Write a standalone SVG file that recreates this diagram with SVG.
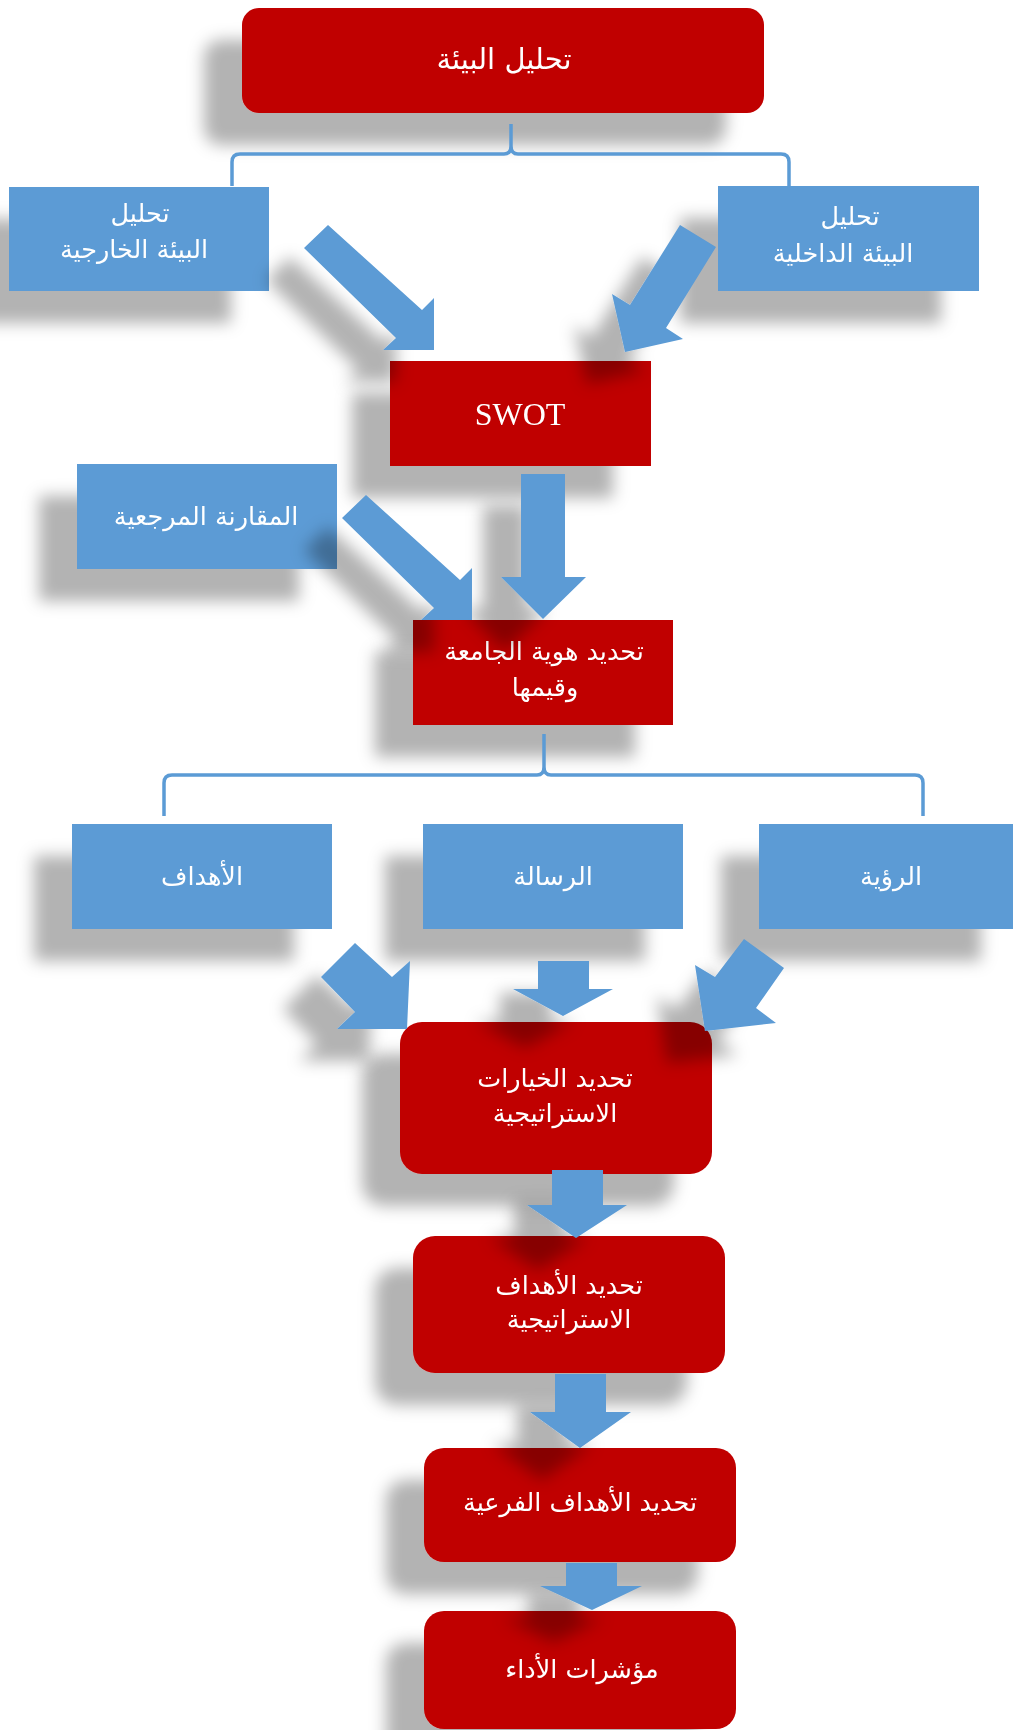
<svg xmlns="http://www.w3.org/2000/svg" width="1013" height="1730" viewBox="0 0 1013 1730">
<defs>
<style>
.red{fill:#C00000}
.blue{fill:#5B9BD5}
.arr{fill:#5B9BD5}
.br{fill:none;stroke:#5B9BD5;stroke-width:3.5;stroke-linejoin:round}
.t{fill:#fff;font-family:"DejaVu Sans",sans-serif;font-size:25.5px;text-anchor:middle}
.big{font-size:29px}
.sw{fill:#fff;font-family:"Liberation Serif",serif;font-size:32px;text-anchor:middle}
</style>
<filter id="sh" x="-40%" y="-40%" width="180%" height="190%">
<feGaussianBlur in="SourceAlpha" stdDeviation="8"/>
<feOffset dx="-38" dy="32" result="b"/>
<feFlood flood-color="#000" flood-opacity="0.3"/>
<feComposite in2="b" operator="in"/>
<feMerge><feMergeNode/><feMergeNode in="SourceGraphic"/></feMerge>
</filter>
</defs>
<rect width="1013" height="1730" fill="#fff"/>

<g id="n-env" filter="url(#sh)"><rect class="red" x="242" y="8" width="522" height="105" rx="17"/><text class="t big" x="504" y="69">تحليل البيئة</text></g>
<g id="n-ext" filter="url(#sh)"><rect class="blue" x="9" y="187" width="260" height="104"/><text class="t" x="140" y="222">تحليل</text><text class="t" x="134" y="258">البيئة الخارجية</text></g>
<g id="n-int" filter="url(#sh)"><rect class="blue" x="718" y="186" width="261" height="105"/><text class="t" x="850" y="225">تحليل</text><text class="t" x="843" y="262">البيئة الداخلية</text></g>
<g id="n-swot" filter="url(#sh)"><rect class="red" x="390" y="361" width="261" height="105"/><text class="sw" x="520" y="425">SWOT</text></g>
<g id="n-bench" filter="url(#sh)"><rect class="blue" x="77" y="464" width="260" height="105"/><text class="t" x="206" y="525">المقارنة المرجعية</text></g>
<g id="n-id" filter="url(#sh)"><rect class="red" x="413" y="620" width="260" height="105"/><text class="t" x="544" y="660">تحديد هوية الجامعة</text><text class="t" x="545" y="696">وقيمها</text></g>
<g id="n-goals" filter="url(#sh)"><rect class="blue" x="72" y="824" width="260" height="105"/><text class="t" x="202" y="885">الأهداف</text></g>
<g id="n-mission" filter="url(#sh)"><rect class="blue" x="423" y="824" width="260" height="105"/><text class="t" x="553" y="885">الرسالة</text></g>
<g id="n-vision" filter="url(#sh)"><rect class="blue" x="759" y="824" width="260" height="105"/><text class="t" x="891" y="885">الرؤية</text></g>
<g id="n-choices" filter="url(#sh)"><rect class="red" x="400" y="1022" width="312" height="152" rx="22"/><text class="t" x="555" y="1087">تحديد الخيارات</text><text class="t" x="555" y="1122">الاستراتيجية</text></g>
<g id="n-sgoals" filter="url(#sh)"><rect class="red" x="413" y="1236" width="312" height="137" rx="22"/><text class="t" x="569" y="1294">تحديد الأهداف</text><text class="t" x="569" y="1328">الاستراتيجية</text></g>
<g id="n-sub" filter="url(#sh)"><rect class="red" x="424" y="1448" width="312" height="114" rx="20"/><text class="t" x="580" y="1511">تحديد الأهداف الفرعية</text></g>
<g id="n-kpi" filter="url(#sh)"><rect class="red" x="424" y="1611" width="312" height="118" rx="20"/><text class="t" x="582" y="1678">مؤشرات الأداء</text></g>

<g id="connectors">
<path class="br" d="M232,186 V162 Q232,154 240,154 H504 Q511,154 511,146 V124 M789,186 V162 Q789,154 781,154 H518 Q511,154 511,146"/>
<path class="br" d="M164,816 V783 Q164,775 172,775 H537 Q544,775 544,767 V734 M923,816 V783 Q923,775 915,775 H551 Q544,775 544,767"/>
<g filter="url(#sh)">
<polygon class="arr" points="328,225 422,310 434,298 434,350 383,350 396,338 304,248"/>
<polygon class="arr" points="680,225 716,247 666,328 683,339 625,352 612,294 630,305"/>
<polygon class="arr" points="521,474 565,474 565,577 586,577 543,619 501,577 521,577"/>
<polygon class="arr" points="366,495 460,580 472,568 472,620 421,620 434,608 342,518"/>
<polygon class="arr" points="355,943 392,977 410,961 407,1029 337,1029 355,1012 321,977"/>
<polygon class="arr" points="538,961 589,961 589,989 613,989 563,1016 513,989 538,989"/>
<polygon class="arr" points="744,939 784,968 756,1008 776,1023 705,1031 695,965 715,977"/>
<polygon class="arr" points="552,1170 603,1170 603,1205 627,1205 576,1238 527,1205 552,1205"/>
<polygon class="arr" points="555,1374 606,1374 606,1412 631,1412 580,1448 530,1412 555,1412"/>
<polygon class="arr" points="566,1563 617,1563 617,1586 642,1586 592,1610 540,1586 566,1586"/>
</g>
</g>
</svg>
